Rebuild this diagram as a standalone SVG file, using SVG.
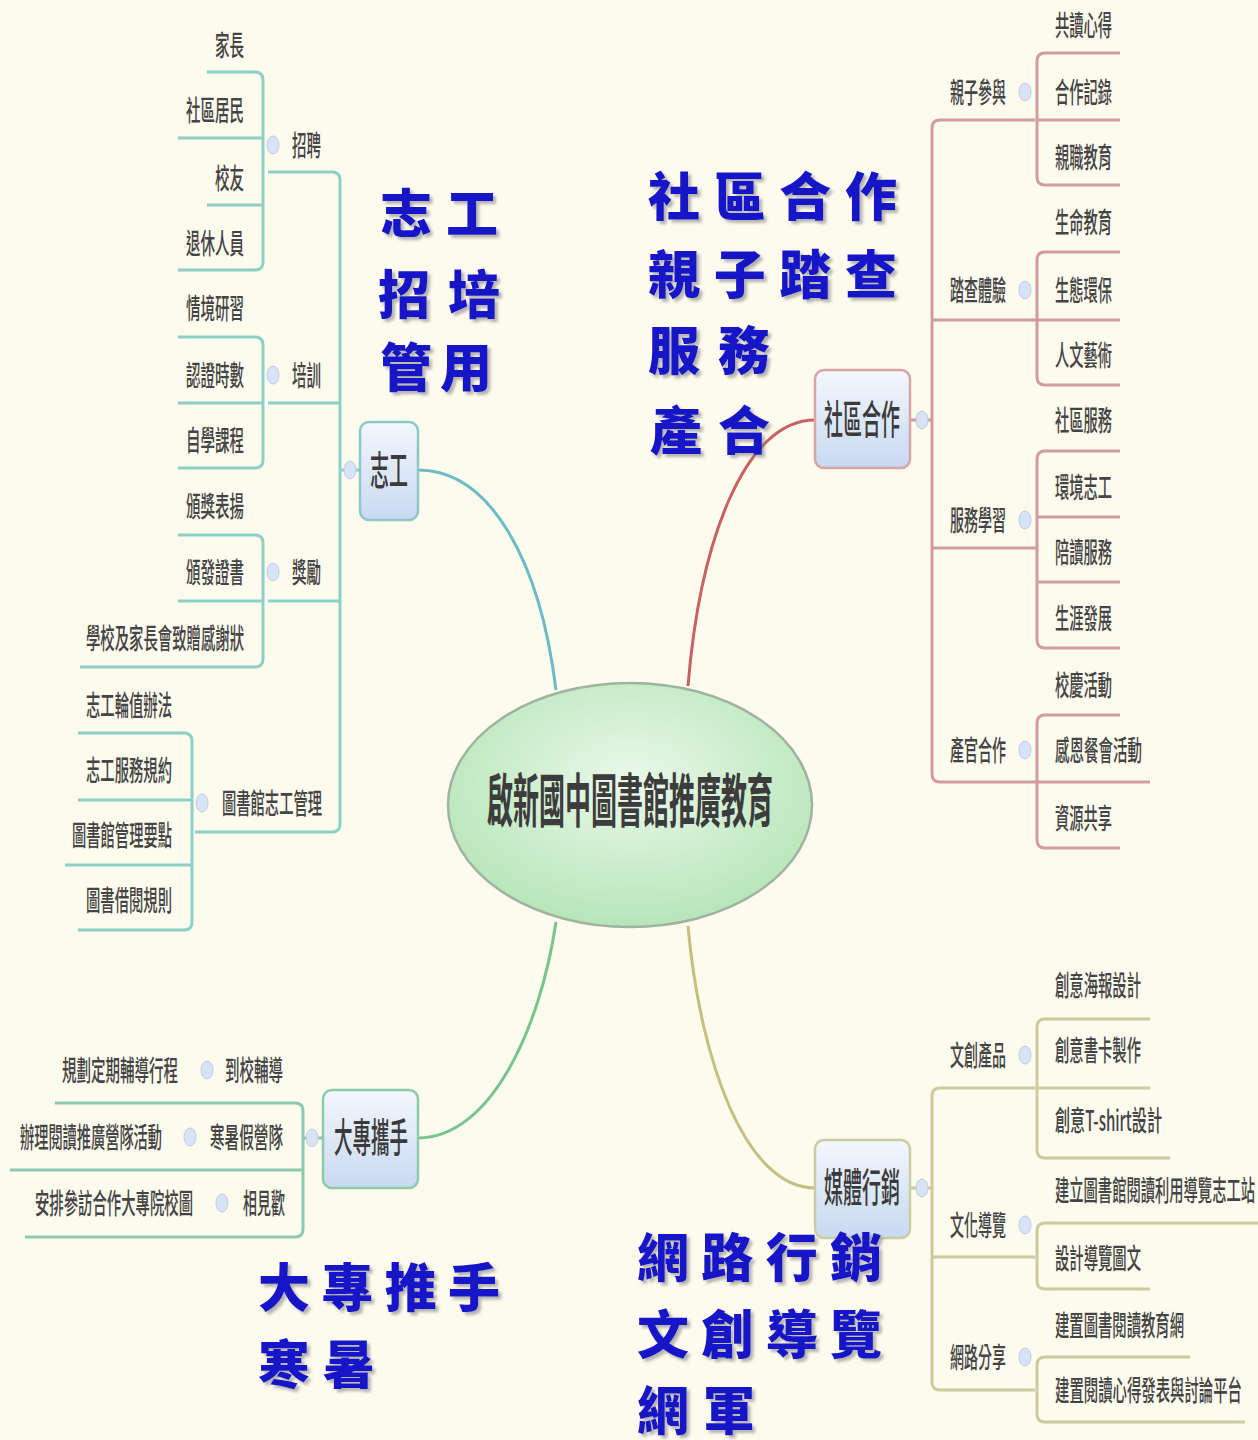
<svg xmlns="http://www.w3.org/2000/svg" width="1258" height="1440" viewBox="0 0 1258 1440">
<defs>
<linearGradient id="nodeFill" x1="0" y1="0" x2="0" y2="1"><stop offset="0" stop-color="#f3f7fd"/><stop offset="1" stop-color="#c8d9f1"/></linearGradient>
<radialGradient id="centerFill" cx="0.5" cy="0.4" r="0.62"><stop offset="0" stop-color="#eaf8ea"/><stop offset="1" stop-color="#b4e5b6"/></radialGradient>
<filter id="sh" x="-10%" y="-10%" width="130%" height="130%"><feDropShadow dx="3" dy="3" stdDeviation="1.5" flood-color="#777" flood-opacity="0.55"/></filter>
<style>
.sm{font-family:"Noto Sans CJK TC","Noto Sans CJK SC",sans-serif;font-size:28px;fill:#444;font-weight:500}
.nd{font-family:"Noto Sans CJK TC","Noto Sans CJK SC",sans-serif;font-size:40px;fill:#3a3a3a;font-weight:500}
.ct{font-family:"Noto Sans CJK TC","Noto Sans CJK SC",sans-serif;font-size:58px;fill:#3c3c3c;font-weight:700}
.big{font-family:"Noto Sans CJK TC","Noto Sans CJK SC",sans-serif;font-size:52px;fill:#1414c8;font-weight:900;filter:url(#sh)}
.e{text-anchor:end}
.m{text-anchor:middle}
.tl{fill:none;stroke:#8fd0c6;stroke-width:3}
.pk{fill:none;stroke:#d29c9c;stroke-width:3}
.ol{fill:none;stroke:#cccb9e;stroke-width:3}
.gr{fill:none;stroke:#8ccab0;stroke-width:3}
.cc{fill:#d8e4f6;stroke:#bccde6;stroke-width:1}
.box{fill:url(#nodeFill);stroke-width:2.5}
</style>
</defs>
<rect width="1258" height="1440" fill="#fdfbee"/>

<g id="connectors">
  <path d="M418,470 C490,470 540,560 556,690" fill="none" stroke="#6bbcc4" stroke-width="3"/>
  <path d="M815,420 C745,420 700,540 688,686" fill="none" stroke="#c86262" stroke-width="3"/>
  <path d="M418,1138 C490,1138 540,1030 556,922" fill="none" stroke="#78c48c" stroke-width="3"/>
  <path d="M815,1188 C745,1188 700,1060 688,926" fill="none" stroke="#c4c080" stroke-width="3"/>
  <!-- volunteer tree -->
  <path class="tl" d="M268,172 H332 Q340,172 340,180 V824 Q340,832 332,832 H195 M268,403 H340 M268,601 H340 M340,470 H360"/>
  <path class="tl" d="M207,72 H255 Q263,72 263,80 V262 Q263,270 255,270 H178 M178,138 H263 M207,205 H263"/>
  <path class="tl" d="M178,337 H255 Q263,337 263,345 V460 Q263,468 255,468 H178 M178,403 H263"/>
  <path class="tl" d="M178,535 H255 Q263,535 263,543 V659 Q263,667 255,667 H80 M178,601 H263"/>
  <path class="tl" d="M78,733 H184 Q192,733 192,741 V922 Q192,930 184,930 H78 M78,800 H192 M65,865 H192"/>
  <!-- community tree -->
  <path class="pk" d="M1035,120 H940 Q932,120 932,128 V774 Q932,782 940,782 H1037 M932,320 H1037 M932,548 H1037 M910,420 H932"/>
  <path class="pk" d="M1120,53 H1045 Q1037,53 1037,61 V177 Q1037,185 1045,185 H1120 M1037,120 H1120"/>
  <path class="pk" d="M1120,252 H1045 Q1037,252 1037,260 V377 Q1037,385 1045,385 H1120 M1037,320 H1120"/>
  <path class="pk" d="M1120,451 H1045 Q1037,451 1037,459 V640 Q1037,648 1045,648 H1120 M1037,517 H1120 M1037,582 H1120"/>
  <path class="pk" d="M1120,715 H1045 Q1037,715 1037,723 V840 Q1037,848 1045,848 H1120 M1037,782 H1150"/>
  <!-- media tree -->
  <path class="ol" d="M1035,1088 H940 Q932,1088 932,1096 V1382 Q932,1390 940,1390 H1035 M932,1257 H1035 M910,1188 H932"/>
  <path class="ol" d="M1150,1019 H1045 Q1037,1019 1037,1027 V1150 Q1037,1158 1045,1158 H1170 M1037,1088 H1150"/>
  <path class="ol" d="M1258,1223 H1045 Q1037,1223 1037,1231 V1281 Q1037,1289 1045,1289 H1150"/>
  <path class="ol" d="M1190,1357 H1045 Q1037,1357 1037,1365 V1414 Q1037,1422 1045,1422 H1245"/>
  <!-- college tree -->
  <path class="gr" d="M55,1103 H295 Q303,1103 303,1111 V1229 Q303,1237 295,1237 H25 M10,1170 H303 M303,1138 H323"/>
</g>

<g id="center">
  <ellipse cx="630" cy="805" rx="182" ry="122" fill="url(#centerFill)" stroke="#9fb39f" stroke-width="2.5"/>
  <text class="ct m" x="630" y="822" textLength="286" lengthAdjust="spacingAndGlyphs">啟新國中圖書館推廣教育</text>
</g>

<g id="n-volunteer">
  <rect class="box" x="360" y="422" width="58" height="98" rx="9" stroke="#8cc8c8"/>
  <text class="nd m" x="389" y="485" textLength="38" lengthAdjust="spacingAndGlyphs">志工</text>
  <ellipse class="cc" cx="350" cy="470" rx="6" ry="9"/>
</g>
<g id="n-recruit">
  <text class="sm" x="292" y="156" textLength="29" lengthAdjust="spacingAndGlyphs">招聘</text>
  <ellipse class="cc" cx="273" cy="145" rx="6" ry="9"/>
  <text class="sm e" x="244" y="56" textLength="29" lengthAdjust="spacingAndGlyphs">家長</text>
  <text class="sm e" x="244" y="121" textLength="58" lengthAdjust="spacingAndGlyphs">社區居民</text>
  <text class="sm e" x="244" y="189" textLength="29" lengthAdjust="spacingAndGlyphs">校友</text>
  <text class="sm e" x="244" y="254" textLength="58" lengthAdjust="spacingAndGlyphs">退休人員</text>
</g>
<g id="n-train">
  <text class="sm" x="292" y="386" textLength="29" lengthAdjust="spacingAndGlyphs">培訓</text>
  <ellipse class="cc" cx="273" cy="375" rx="6" ry="9"/>
  <text class="sm e" x="244" y="319" textLength="58" lengthAdjust="spacingAndGlyphs">情境研習</text>
  <text class="sm e" x="244" y="386" textLength="58" lengthAdjust="spacingAndGlyphs">認證時數</text>
  <text class="sm e" x="244" y="451" textLength="58" lengthAdjust="spacingAndGlyphs">自學課程</text>
</g>
<g id="n-reward">
  <text class="sm" x="292" y="583" textLength="29" lengthAdjust="spacingAndGlyphs">獎勵</text>
  <ellipse class="cc" cx="273" cy="572" rx="6" ry="9"/>
  <text class="sm e" x="244" y="517" textLength="58" lengthAdjust="spacingAndGlyphs">頒獎表揚</text>
  <text class="sm e" x="244" y="583" textLength="58" lengthAdjust="spacingAndGlyphs">頒發證書</text>
  <text class="sm e" x="244" y="649" textLength="158" lengthAdjust="spacingAndGlyphs">學校及家長會致贈感謝狀</text>
</g>
<g id="n-manage">
  <text class="sm" x="222" y="814" textLength="100" lengthAdjust="spacingAndGlyphs">圖書館志工管理</text>
  <ellipse class="cc" cx="202" cy="803" rx="6" ry="9"/>
  <text class="sm e" x="172" y="716" textLength="86" lengthAdjust="spacingAndGlyphs">志工輪值辦法</text>
  <text class="sm e" x="172" y="781" textLength="86" lengthAdjust="spacingAndGlyphs">志工服務規約</text>
  <text class="sm e" x="172" y="846" textLength="100" lengthAdjust="spacingAndGlyphs">圖書館管理要點</text>
  <text class="sm e" x="172" y="911" textLength="86" lengthAdjust="spacingAndGlyphs">圖書借閱規則</text>
</g>

<g id="n-community">
  <rect class="box" x="815" y="370" width="95" height="98" rx="9" stroke="#d8a4a4"/>
  <text class="nd m" x="862" y="434" textLength="76" lengthAdjust="spacingAndGlyphs">社區合作</text>
  <ellipse class="cc" cx="922" cy="420" rx="6" ry="9"/>
</g>
<g id="n-parent">
  <text class="sm" x="950" y="103" textLength="56" lengthAdjust="spacingAndGlyphs">親子參與</text>
  <ellipse class="cc" cx="1025" cy="92" rx="6" ry="9"/>
  <text class="sm" x="1055" y="36" textLength="57" lengthAdjust="spacingAndGlyphs">共讀心得</text>
  <text class="sm" x="1055" y="103" textLength="57" lengthAdjust="spacingAndGlyphs">合作記錄</text>
  <text class="sm" x="1055" y="168" textLength="57" lengthAdjust="spacingAndGlyphs">親職教育</text>
</g>
<g id="n-explore">
  <text class="sm" x="950" y="301" textLength="56" lengthAdjust="spacingAndGlyphs">踏查體驗</text>
  <ellipse class="cc" cx="1025" cy="290" rx="6" ry="9"/>
  <text class="sm" x="1055" y="233" textLength="57" lengthAdjust="spacingAndGlyphs">生命教育</text>
  <text class="sm" x="1055" y="301" textLength="57" lengthAdjust="spacingAndGlyphs">生態環保</text>
  <text class="sm" x="1055" y="366" textLength="57" lengthAdjust="spacingAndGlyphs">人文藝術</text>
</g>
<g id="n-service">
  <text class="sm" x="950" y="531" textLength="56" lengthAdjust="spacingAndGlyphs">服務學習</text>
  <ellipse class="cc" cx="1025" cy="520" rx="6" ry="9"/>
  <text class="sm" x="1055" y="431" textLength="57" lengthAdjust="spacingAndGlyphs">社區服務</text>
  <text class="sm" x="1055" y="498" textLength="57" lengthAdjust="spacingAndGlyphs">環境志工</text>
  <text class="sm" x="1055" y="563" textLength="57" lengthAdjust="spacingAndGlyphs">陪讀服務</text>
  <text class="sm" x="1055" y="629" textLength="57" lengthAdjust="spacingAndGlyphs">生涯發展</text>
</g>
<g id="n-industry">
  <text class="sm" x="950" y="761" textLength="56" lengthAdjust="spacingAndGlyphs">產官合作</text>
  <ellipse class="cc" cx="1025" cy="750" rx="6" ry="9"/>
  <text class="sm" x="1055" y="696" textLength="57" lengthAdjust="spacingAndGlyphs">校慶活動</text>
  <text class="sm" x="1055" y="761" textLength="87" lengthAdjust="spacingAndGlyphs">感恩餐會活動</text>
  <text class="sm" x="1055" y="829" textLength="57" lengthAdjust="spacingAndGlyphs">資源共享</text>
</g>

<g id="n-media">
  <rect class="box" x="815" y="1140" width="95" height="98" rx="9" stroke="#cccca4"/>
  <text class="nd m" x="862" y="1202" textLength="76" lengthAdjust="spacingAndGlyphs">媒體行銷</text>
  <ellipse class="cc" cx="922" cy="1188" rx="6" ry="9"/>
</g>
<g id="n-product">
  <text class="sm" x="950" y="1066" textLength="56" lengthAdjust="spacingAndGlyphs">文創產品</text>
  <ellipse class="cc" cx="1025" cy="1055" rx="6" ry="9"/>
  <text class="sm" x="1055" y="996" textLength="86" lengthAdjust="spacingAndGlyphs">創意海報設計</text>
  <text class="sm" x="1055" y="1061" textLength="86" lengthAdjust="spacingAndGlyphs">創意書卡製作</text>
  <text class="sm" x="1055" y="1131" textLength="107" lengthAdjust="spacingAndGlyphs">創意T-shirt設計</text>
</g>
<g id="n-guide">
  <text class="sm" x="950" y="1236" textLength="56" lengthAdjust="spacingAndGlyphs">文化導覽</text>
  <ellipse class="cc" cx="1025" cy="1225" rx="6" ry="9"/>
  <text class="sm" x="1055" y="1201" textLength="200" lengthAdjust="spacingAndGlyphs">建立圖書館閱讀利用導覽志工站</text>
  <text class="sm" x="1055" y="1269" textLength="86" lengthAdjust="spacingAndGlyphs">設計導覽圖文</text>
</g>
<g id="n-share">
  <text class="sm" x="950" y="1368" textLength="56" lengthAdjust="spacingAndGlyphs">網路分享</text>
  <ellipse class="cc" cx="1025" cy="1357" rx="6" ry="9"/>
  <text class="sm" x="1055" y="1336" textLength="129" lengthAdjust="spacingAndGlyphs">建置圖書閱讀教育網</text>
  <text class="sm" x="1055" y="1401" textLength="187" lengthAdjust="spacingAndGlyphs">建置閱讀心得發表與討論平台</text>
</g>

<g id="n-college">
  <rect class="box" x="323" y="1090" width="95" height="98" rx="9" stroke="#8ccaa8"/>
  <text class="nd m" x="371" y="1152" textLength="74" lengthAdjust="spacingAndGlyphs">大專攜手</text>
  <ellipse class="cc" cx="312" cy="1138" rx="6" ry="9"/>
</g>
<g id="n-visit">
  <text class="sm" x="225" y="1081" textLength="58" lengthAdjust="spacingAndGlyphs">到校輔導</text>
  <ellipse class="cc" cx="207" cy="1070" rx="6" ry="9"/>
  <text class="sm" x="62" y="1081" textLength="116" lengthAdjust="spacingAndGlyphs">規劃定期輔導行程</text>
</g>
<g id="n-camp">
  <text class="sm" x="210" y="1148" textLength="73" lengthAdjust="spacingAndGlyphs">寒暑假營隊</text>
  <ellipse class="cc" cx="190" cy="1137" rx="6" ry="9"/>
  <text class="sm" x="20" y="1148" textLength="142" lengthAdjust="spacingAndGlyphs">辦理閱讀推廣營隊活動</text>
</g>
<g id="n-meet">
  <text class="sm" x="243" y="1214" textLength="42" lengthAdjust="spacingAndGlyphs">相見歡</text>
  <ellipse class="cc" cx="222" cy="1203" rx="6" ry="9"/>
  <text class="sm" x="35" y="1214" textLength="158" lengthAdjust="spacingAndGlyphs">安排參訪合作大專院校圖</text>
</g>

<g id="annotations">
  <text class="big" x="380" y="233" textLength="118" lengthAdjust="spacing">志工</text>
  <text class="big" x="378" y="314" textLength="122" lengthAdjust="spacing">招培</text>
  <text class="big" x="380" y="387" textLength="112" lengthAdjust="spacing">管用</text>
  <text class="big" x="648" y="216" textLength="249" lengthAdjust="spacing">社區合作</text>
  <text class="big" x="648" y="294" textLength="249" lengthAdjust="spacing">親子踏查</text>
  <text class="big" x="648" y="370" textLength="122" lengthAdjust="spacing">服務</text>
  <text class="big" x="650" y="450" textLength="120" lengthAdjust="spacing">產合</text>
  <text class="big" x="258" y="1307" textLength="242" lengthAdjust="spacing">大專推手</text>
  <text class="big" x="258" y="1384" textLength="117" lengthAdjust="spacing">寒暑</text>
  <text class="big" x="637" y="1277" textLength="245" lengthAdjust="spacing">網路行銷</text>
  <text class="big" x="637" y="1354" textLength="245" lengthAdjust="spacing">文創導覽</text>
  <text class="big" x="637" y="1430" textLength="118" lengthAdjust="spacing">網軍</text>
</g>
</svg>
